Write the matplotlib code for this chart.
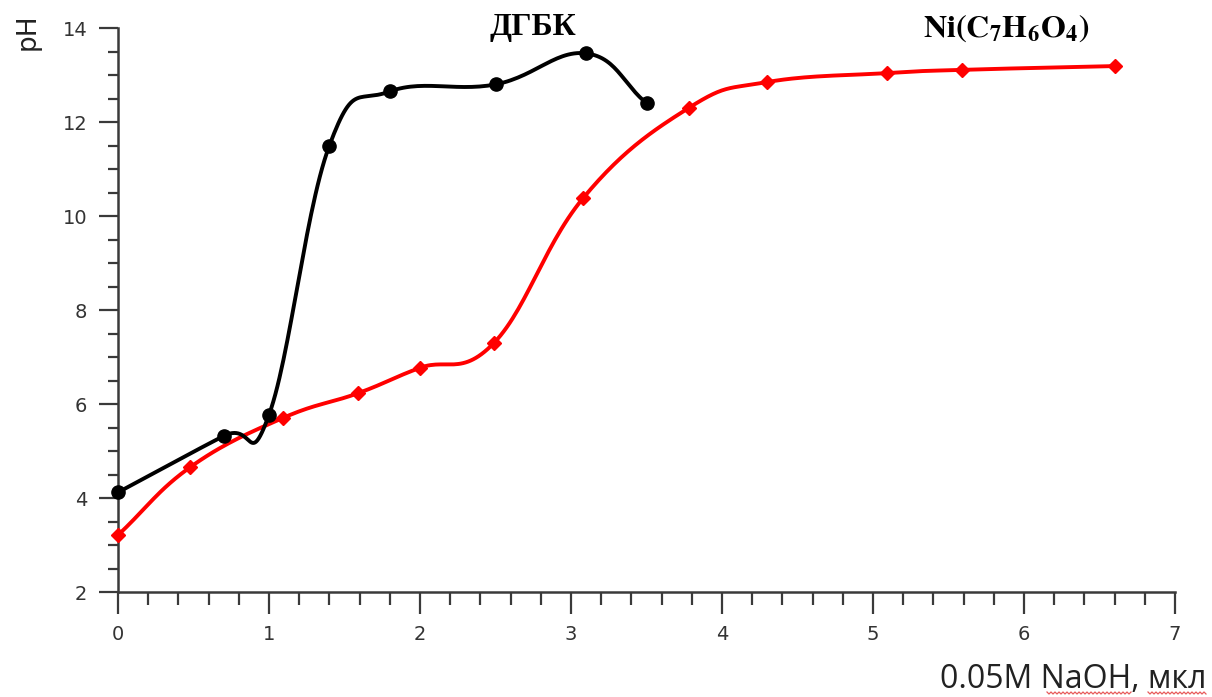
import numpy as np
import matplotlib
matplotlib.use("Agg")
import matplotlib.pyplot as plt
from matplotlib.ticker import MultipleLocator
from matplotlib.lines import Line2D

# titration curves
dgbk_x = [0.0, 0.7, 1.0, 1.4, 1.8, 2.5, 3.1, 3.5]
dgbk_ph = [4.12, 5.32, 5.77, 11.5, 12.65, 12.8, 13.46, 12.4]

ni_x = [0.0, 0.48, 1.09, 1.59, 2.0, 2.49, 3.08, 3.78, 4.3, 5.09, 5.59, 6.6]
ni_ph = [3.21, 4.66, 5.7, 6.23, 6.77, 7.3, 10.38, 12.3, 12.85, 13.04, 13.11, 13.19]

x_ticks = [0, 1, 2, 3, 4, 5, 6, 7]
y_ticks = [2, 4, 6, 8, 10, 12, 14]


# Smoothed line like the spreadsheet one (Catmull-Rom through the points,
# done in screen units so both axes bend the same way)
def smooth_line(xs, ys, sx=151.0, sy=47.0, n=30, k=0.2):
    p = np.column_stack([np.asarray(xs) * sx, np.asarray(ys) * sy])
    p = np.vstack([2 * p[0] - p[1], p, 2 * p[-1] - p[-2]])
    out = []
    t = np.linspace(0, 1, n)[:, None]
    for i in range(1, len(p) - 2):
        p0, p1, p2, p3 = p[i - 1], p[i], p[i + 1], p[i + 2]
        c1 = p1 + (p2 - p0) * k
        c2 = p2 - (p3 - p1) * k
        seg = ((1 - t) ** 3) * p1 + 3 * ((1 - t) ** 2) * t * c1 + 3 * (1 - t) * t ** 2 * c2 + t ** 3 * p2
        out.append(seg)
    out = np.vstack(out)
    return out[:, 0] / sx, out[:, 1] / sy


# red spell-check squiggle under a word (pixel positions of the figure)
def squiggle(fig, x0, x1, y, W=1212, H=697):
    xs = np.arange(x0, x1 + 0.1, 2.0)
    ys = y + np.where(np.arange(len(xs)) % 2 == 0, -1.0, 1.0)
    fig.add_artist(Line2D(xs / W, 1 - ys / H, transform=fig.transFigure,
                          color="#e8595a", lw=0.9))


plt.rcParams["mathtext.fontset"] = "stix"

fig = plt.figure(figsize=(12.12, 6.97), dpi=100)
ax = fig.add_axes([118 / 1212, 1 - 592 / 697, (1175 - 118) / 1212, (592 - 28) / 697])

sx, sy = smooth_line(ni_x, ni_ph)
ax.plot(sx, sy, color="#ff0000", lw=2.8, zorder=2, solid_capstyle="round")
ax.plot(ni_x, ni_ph, ls="none", marker="D", ms=7.5, color="#ff0000", zorder=3)

bx, by = smooth_line(dgbk_x, dgbk_ph)
ax.plot(bx, by, color="black", lw=2.8, zorder=4, solid_capstyle="round")
ax.plot(dgbk_x, dgbk_ph, ls="none", marker="o", ms=9.5, color="black", zorder=5)

ax.set_xlim(0, 7)
ax.set_ylim(2, 14)
ax.set_xticks(x_ticks)
ax.set_yticks(y_ticks)
ax.xaxis.set_minor_locator(MultipleLocator(0.2))
ax.yaxis.set_minor_locator(MultipleLocator(0.5))

for s in ["top", "right"]:
    ax.spines[s].set_visible(False)
for s in ["left", "bottom"]:
    ax.spines[s].set_linewidth(1.8)
    ax.spines[s].set_color("#3a3a3a")

ax.tick_params(axis="both", which="major", direction="out", width=1.6, color="#3a3a3a",
               labelsize=14, labelcolor="#333333")
ax.tick_params(axis="x", which="major", length=16, pad=8)
ax.tick_params(axis="x", which="minor", length=9, width=1.6, color="#3a3a3a")
ax.tick_params(axis="y", which="major", length=14, pad=8)
ax.tick_params(axis="y", which="minor", length=7, width=1.6, color="#3a3a3a")
for lab in ax.get_xticklabels() + ax.get_yticklabels():
    lab.set_fontfamily("DejaVu Sans")

for ln in ax.lines:
    ln.set_clip_on(False)

fig.text(28 / 1212, 1 - 32 / 697, "pH", rotation=90, ha="center", va="center",
         fontsize=19, color="#222222", family="DejaVu Sans")
fig.text(1206 / 1212, 1 - 680 / 697, "0.05M NaOH, мкл", ha="right", va="center",
         fontsize=23, color="#222222", family="Open Sans")
squiggle(fig, 1047, 1131, 693)
squiggle(fig, 1148, 1206, 693)

ax.text(2.75, 14.0, "ДГБК", ha="center", va="center", fontsize=23, fontweight="bold",
        family="Liberation Serif")
ax.text(5.88, 14.0, r"$\mathbf{Ni(C_7H_6O_4)}$", ha="center", va="center", fontsize=23)

fig.savefig("out.png", dpi=100)
